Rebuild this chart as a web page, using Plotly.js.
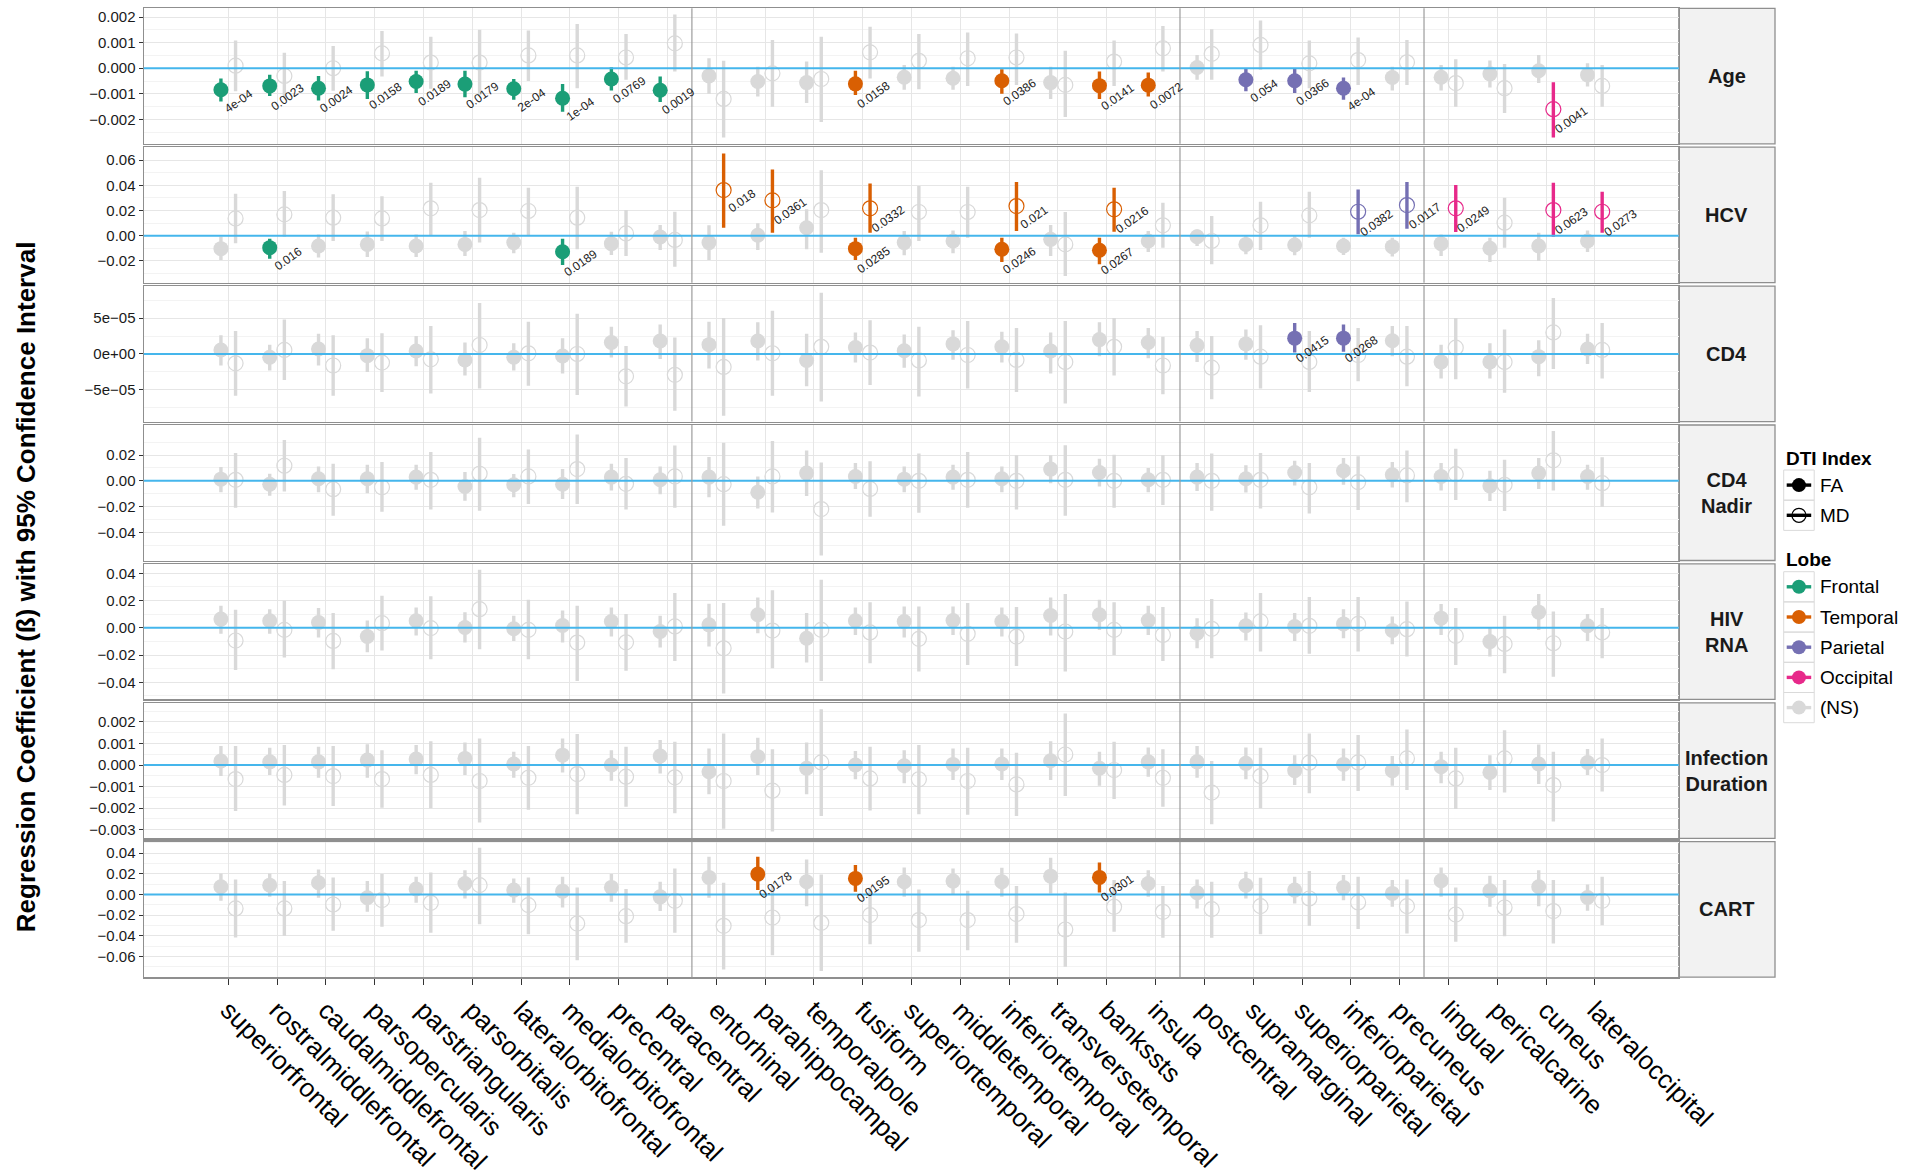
<!DOCTYPE html>
<html><head><meta charset="utf-8">
<script src="https://cdn.plot.ly/plotly-3.0.1.min.js"></script>
<style>html,body{margin:0;padding:0;background:#fff}#chart{width:1921px;height:1173px}</style>
</head><body><div id="chart"></div>
<script>
const N = null;
const regions = ['superiorfrontal','rostralmiddlefrontal','caudalmiddlefrontal','parsopercularis','parstriangularis','parsorbitalis','lateralorbitofrontal','medialorbitofrontal','precentral','paracentral','entorhinal','parahippocampal','temporalpole','fusiform','superiortemporal','middletemporal','inferiortemporal','transversetemporal','bankssts','insula','postcentral','supramarginal','superiorparietal','inferiorparietal','precuneus','lingual','pericalcarine','cuneus','lateraloccipital'];
const lobes = ['Frontal','Frontal','Frontal','Frontal','Frontal','Frontal','Frontal','Frontal','Frontal','Frontal','Temporal','Temporal','Temporal','Temporal','Temporal','Temporal','Temporal','Temporal','Temporal','Temporal','Parietal','Parietal','Parietal','Parietal','Parietal','Occipital','Occipital','Occipital','Occipital'];
const covariates = ['Age','HCV','CD4','CD4<br>Nadir','HIV<br>RNA','Infection<br>Duration','CART'];
const lobeNames = ['Frontal','Temporal','Parietal','Occipital'];
const lobeColors = ['#1B9E77','#D95F02','#7570B3','#E7298A'];
const nsColor = '#D9D9D9';

// Age
const age_FA = [-0.00084,-0.00069,-0.00078,-0.00065,-0.00052,-0.00062,-0.0008,-0.00117,-0.00042,-0.00086,-0.0003,-0.00052,-0.00056,-0.00061,-0.00035,-0.00039,-0.00049,-0.00056,-0.00068,-0.00066,0.00003,-0.00045,-0.00049,-0.00078,-0.00036,-0.00035,-0.00022,-0.0001,-0.00026];
const age_FA_lo = [-0.0013,-0.00108,-0.00126,-0.0012,-0.00097,-0.00113,-0.00123,-0.0017,-0.00087,-0.00132,-0.001,-0.0011,-0.00136,-0.00104,-0.00084,-0.00084,-0.001,-0.0012,-0.0012,-0.0011,-0.00045,-0.0009,-0.00097,-0.00123,-0.00087,-0.00087,-0.00075,-0.00058,-0.00071];
const age_FA_hi = [-0.0004,-0.00025,-0.0003,-0.00012,-0.0001,-0.0001,-0.00042,-0.00062,0.00004,-0.00032,0.00039,0.00006,0.00026,-0.0001,0.00013,0.00006,-0.00004,0.00006,-0.00013,-0.00017,0.00052,-0.00003,-0.00003,-0.00036,0.00006,0.00013,0.0003,0.00052,0.00019];
const age_MD = [0.0001,-0.0003,0.0,0.00058,0.00022,0.00022,0.0005,0.0005,0.00042,0.00097,-0.0012,-0.0002,-0.00042,0.00062,0.00029,0.00039,0.00042,-0.00065,0.00026,0.00078,0.00056,0.00091,0.00019,0.00032,0.00023,-0.00058,-0.00078,-0.0016,-0.00069];
const age_MD_lo = [-0.0009,-0.0011,-0.00088,-0.00032,-0.0008,-0.00104,-0.0005,-0.00078,-0.00045,-0.00013,-0.0027,-0.0015,-0.0021,-0.0004,-0.00082,-0.00069,-0.00065,-0.0019,-0.00069,-0.00013,-0.00045,-0.00006,-0.00078,-0.00065,-0.00065,-0.0015,-0.00175,-0.0027,-0.0015];
const age_MD_hi = [0.00108,0.0006,0.00087,0.00145,0.00123,0.0015,0.00147,0.00173,0.00134,0.0021,0.00029,0.0011,0.00123,0.00162,0.00134,0.0014,0.00136,0.00068,0.00108,0.00165,0.00152,0.00186,0.00108,0.0012,0.0011,0.00035,0.00017,-0.00055,0.00013];
const age_FA_p = ['4e-04','0.0023','0.0024','0.0158','0.0189','0.0179','2e-04','1e-04','0.0769','0.0019',N,N,N,'0.0158',N,N,'0.0386',N,'0.0141','0.0072',N,'0.054','0.0366','4e-04',N,N,N,N,N];
const age_MD_p = [N,N,N,N,N,N,N,N,N,N,N,N,N,N,N,N,N,N,N,N,N,N,N,N,N,N,N,'0.0041',N];

// HCV
const hcv_FA = [-0.0103,-0.0095,-0.0082,-0.0069,-0.0082,-0.0069,-0.0055,-0.0127,-0.0063,-0.001,-0.0055,0.0003,0.0063,-0.0103,-0.0055,-0.0042,-0.0108,-0.0029,-0.0116,-0.0042,-0.0008,-0.0069,-0.0074,-0.0082,-0.0087,-0.0063,-0.01,-0.0082,-0.0042];
const hcv_FA_lo = [-0.0193,-0.0182,-0.0174,-0.0169,-0.0169,-0.0161,-0.014,-0.0232,-0.0153,-0.0114,-0.0193,-0.0114,-0.0108,-0.0193,-0.0156,-0.014,-0.0209,-0.0161,-0.0227,-0.0129,-0.0082,-0.0148,-0.0156,-0.0153,-0.0166,-0.0161,-0.0209,-0.0201,-0.0129];
const hcv_FA_hi = [-0.0008,-0.0024,0.001,0.0034,0.001,0.0037,0.0024,-0.0024,0.0032,0.0085,0.0082,0.0098,0.0209,-0.0016,0.0037,0.0042,-0.0016,0.0085,-0.0016,0.0037,0.005,0.0003,0.0,-0.0016,-0.0016,0.001,-0.0016,0.0024,0.0042];
const hcv_MD = [0.0137,0.0169,0.0143,0.0137,0.0217,0.0203,0.0196,0.0143,0.0018,-0.0034,0.0362,0.028,0.0203,0.0217,0.0188,0.0188,0.0235,-0.0069,0.0209,0.0082,-0.0042,0.0082,0.0161,0.019,0.0243,0.0217,0.0103,0.0203,0.019];
const hcv_MD_lo = [-0.0061,-0.0008,-0.0042,-0.0042,0.0003,-0.0055,0.0003,-0.0108,-0.0161,-0.0246,0.0063,0.0024,-0.0135,0.0024,-0.0042,-0.0016,0.0037,-0.032,0.0032,-0.0095,-0.0227,-0.0114,-0.0016,0.0011,0.0055,0.0029,-0.0095,-0.0008,0.0024];
const hcv_MD_hi = [0.0333,0.0354,0.0328,0.0312,0.042,0.046,0.038,0.0388,0.0203,0.019,0.0653,0.0526,0.052,0.0415,0.0394,0.0388,0.0425,0.0188,0.038,0.0262,0.0156,0.027,0.0349,0.0367,0.0425,0.0402,0.0301,0.042,0.0349];
const hcv_FA_p = [N,'0.016',N,N,N,N,N,'0.0189',N,N,N,N,N,'0.0285',N,N,'0.0246',N,'0.0267',N,N,N,N,N,N,N,N,N,N];
const hcv_MD_p = [N,N,N,N,N,N,N,N,N,N,'0.018','0.0361',N,'0.0332',N,N,'0.021',N,'0.0216',N,N,N,N,'0.0382','0.0117','0.0249',N,'0.0623','0.0273'];

// CD4
const cd4_FA = [5.6e-6,-4.6e-6,6.9e-6,-2.3e-6,4.2e-6,-8.3e-6,-4.6e-6,-2.8e-6,1.6e-5,1.8e-5,1.3e-5,1.8e-5,-9e-6,9e-6,4.6e-6,1.4e-5,1e-5,4.2e-6,2e-5,1.6e-5,1.2e-5,1.4e-5,2.2e-5,2.2e-5,1.85e-5,-1.1e-5,-1.1e-5,-3.7e-6,7e-6];
const cd4_FA_lo = [-1.6e-5,-2.3e-5,-1.6e-5,-2.5e-5,-1.7e-5,-3e-5,-2.3e-5,-2.7e-5,-5e-6,-7e-6,-2e-5,-9e-6,-4.5e-5,-1.2e-5,-1.9e-5,-8e-6,-1.2e-5,-2.7e-5,-3e-6,-6e-6,-1.1e-5,-8e-6,2e-6,3e-6,-3e-6,-3.4e-5,-3.4e-5,-3.1e-5,-1.4e-5];
const cd4_FA_hi = [2.6e-5,1.3e-5,2.8e-5,2.2e-5,2.5e-5,1.6e-5,1.5e-5,2.2e-5,3.8e-5,4.1e-5,4.5e-5,4.4e-5,2.8e-5,3e-5,2.7e-5,3.3e-5,3.1e-5,3e-5,4.4e-5,3.6e-5,3.2e-5,3.4e-5,4.3e-5,4.1e-5,3.9e-5,1.3e-5,1.5e-5,1.9e-5,2.8e-5];
const cd4_MD = [-1.3e-5,5.6e-6,-1.6e-5,-1.2e-5,-7.4e-6,1.25e-5,9e-7,0,-3.1e-5,-2.9e-5,-1.8e-5,1e-6,1e-5,2e-6,-9e-6,-1.4e-6,-8.3e-6,-1.1e-5,1e-5,-1.6e-5,-1.9e-5,-3.7e-6,-1.1e-5,-1.4e-6,-3.7e-6,8.8e-6,-1.1e-5,3e-5,5.6e-6];
const cd4_MD_lo = [-5.8e-5,-3.6e-5,-5.8e-5,-5.3e-5,-5.5e-5,-4.8e-5,-4.4e-5,-5.7e-5,-7.3e-5,-7.9e-5,-8.6e-5,-5.8e-5,-6.6e-5,-4.3e-5,-5.9e-5,-4.8e-5,-5.3e-5,-6.9e-5,-3e-5,-5.6e-5,-6.3e-5,-4.8e-5,-5.3e-5,-3.8e-5,-4.5e-5,-3.5e-5,-5.4e-5,-2.1e-5,-3.4e-5];
const cd4_MD_hi = [3.2e-5,4.8e-5,2.6e-5,2.9e-5,3.9e-5,7.1e-5,4.5e-5,5.6e-5,1.1e-5,2.3e-5,5e-5,6e-5,8.5e-5,4.7e-5,3.8e-5,4.6e-5,3.6e-5,4.6e-5,5e-5,2.4e-5,2.5e-5,4e-5,3.2e-5,3.6e-5,3.9e-5,5e-5,3.4e-5,7.8e-5,4.3e-5];
const cd4_FA_p = [N,N,N,N,N,N,N,N,N,N,N,N,N,N,N,N,N,N,N,N,N,N,'0.0415','0.0268',N,N,N,N,N];
const cd4_MD_p = [N,N,N,N,N,N,N,N,N,N,N,N,N,N,N,N,N,N,N,N,N,N,N,N,N,N,N,N,N];

// CD4 Nadir
const nadir_FA = [0.0013,-0.0026,0.0016,0.0016,0.0029,-0.0044,-0.0031,-0.0026,0.0029,0.0008,0.0029,-0.0089,0.006,0.0034,0.0013,0.0029,0.0016,0.0091,0.0065,0.0008,0.0029,0.0016,0.0065,0.0078,0.0047,0.0034,-0.0039,0.006,0.0034];
const nadir_FA_lo = [-0.0089,-0.0115,-0.0089,-0.0096,-0.007,-0.0154,-0.0128,-0.0141,-0.0076,-0.0104,-0.0128,-0.0214,-0.0117,-0.0063,-0.0089,-0.007,-0.0089,-0.0018,-0.0044,-0.0089,-0.0078,-0.0091,-0.0037,-0.0031,-0.0052,-0.0076,-0.0156,-0.0063,-0.007];
const nadir_FA_hi = [0.0107,0.0055,0.0112,0.0125,0.0125,0.0068,0.0052,0.0091,0.0133,0.0112,0.0185,0.0034,0.0235,0.0138,0.0112,0.0125,0.0112,0.0198,0.0172,0.0099,0.0138,0.012,0.0156,0.0177,0.0146,0.0138,0.0078,0.0177,0.0125];
const nadir_MD = [0.0008,0.0117,-0.0065,-0.005,0.0008,0.0055,0.0034,0.0091,-0.0023,0.0034,-0.0026,0.0034,-0.0219,-0.0063,0,0.0008,0,0.0008,0,0.0008,0,0.0008,-0.005,-0.001,0.0042,0.0052,-0.0031,0.0159,-0.0018];
const nadir_MD_lo = [-0.0209,-0.0083,-0.0271,-0.024,-0.0222,-0.0232,-0.018,-0.018,-0.0222,-0.0209,-0.0349,-0.0245,-0.0579,-0.0279,-0.0248,-0.0209,-0.0222,-0.0271,-0.0209,-0.0188,-0.0232,-0.0214,-0.0253,-0.0227,-0.0167,-0.0149,-0.0235,-0.0076,-0.0201];
const nadir_MD_hi = [0.0216,0.0316,0.0133,0.0146,0.0224,0.0334,0.0243,0.036,0.0177,0.0274,0.0295,0.0308,0.0143,0.0151,0.0211,0.0224,0.0198,0.0276,0.0203,0.0198,0.0211,0.0216,0.0138,0.019,0.0235,0.0248,0.0164,0.0386,0.0183];
const nadir_FA_p = cd4_MD_p;
const nadir_MD_p = cd4_MD_p;

// HIV RNA
const hiv_FA = [0.0064,0.0052,0.0039,-0.0064,0.0052,0.0002,-0.0007,0.0017,0.0047,-0.0027,0.0022,0.0096,-0.0076,0.0052,0.0047,0.0054,0.0047,0.0091,0.0096,0.0054,-0.0039,0.0015,0.001,0.0029,-0.002,0.0071,-0.0101,0.0115,0.0015];
const hiv_FA_lo = [-0.0044,-0.0044,-0.0071,-0.0179,-0.0056,-0.0108,-0.0096,-0.0108,-0.0064,-0.0145,-0.0137,-0.0039,-0.0255,-0.0052,-0.0071,-0.0052,-0.0064,-0.0056,-0.0015,-0.0052,-0.015,-0.0093,-0.0096,-0.0076,-0.012,-0.0052,-0.0211,-0.0015,-0.0096];
const hiv_FA_hi = [0.0162,0.0137,0.0145,0.0054,0.015,0.0115,0.0088,0.0128,0.015,0.0088,0.0177,0.0223,0.0108,0.015,0.0157,0.0157,0.015,0.0223,0.0206,0.0162,0.0071,0.0113,0.0108,0.0137,0.0083,0.0174,0.0005,0.0248,0.0101];
const hiv_MD = [-0.0093,-0.0015,-0.0096,0.0034,-0.0002,0.0137,-0.0015,-0.0108,-0.0106,0.001,-0.015,-0.002,-0.0015,-0.0034,-0.0081,-0.0044,-0.0064,-0.0027,-0.0015,-0.0052,-0.0007,0.0047,0.0015,0.0029,-0.001,-0.0059,-0.0118,-0.0113,-0.0034];
const hiv_MD_lo = [-0.0309,-0.0218,-0.0304,-0.0167,-0.0231,-0.0157,-0.0231,-0.039,-0.0314,-0.0243,-0.0481,-0.0297,-0.039,-0.026,-0.0321,-0.0272,-0.028,-0.0321,-0.0199,-0.0243,-0.0223,-0.0174,-0.0191,-0.0174,-0.0211,-0.0272,-0.0334,-0.0358,-0.0223];
const hiv_MD_hi = [0.0133,0.0199,0.0108,0.0236,0.0231,0.0427,0.0206,0.0162,0.0101,0.0255,0.0182,0.0275,0.0353,0.0187,0.0157,0.0182,0.0152,0.0248,0.0187,0.0152,0.0211,0.0255,0.0226,0.0226,0.0194,0.0145,0.0088,0.012,0.0145];
const hiv_FA_p = cd4_MD_p;
const hiv_MD_p = cd4_MD_p;

// Infection Duration
const dur_FA = [0.00019,0.00015,0.00015,0.00023,0.00028,0.00031,0.00005,0.00046,0,0.00042,-0.00031,0.00039,-0.00015,0,-0.00003,0.00003,0.00005,0.0002,-0.00015,0.00015,0.00015,0.00008,-0.00026,0.00003,-0.00026,-0.00008,-0.00034,0.00005,0.00012];
const dur_FA_lo = [-0.00051,-0.00046,-0.00059,-0.00059,-0.00043,-0.00046,-0.00059,-0.00035,-0.00073,-0.00039,-0.00136,-0.00046,-0.00136,-0.00066,-0.00085,-0.00069,-0.00069,-0.00069,-0.00096,-0.00054,-0.00059,-0.00066,-0.00093,-0.00073,-0.00096,-0.00085,-0.00116,-0.00088,-0.00046];
const dur_FA_hi = [0.00088,0.0008,0.00085,0.00097,0.00093,0.00105,0.00062,0.00123,0.00069,0.00116,0.00077,0.00127,0.00105,0.00065,0.00069,0.00077,0.00077,0.00111,0.00062,0.00082,0.00088,0.00082,0.00046,0.00077,0.00042,0.00062,0.00046,0.00096,0.00074];
const dur_MD = [-0.00065,-0.00046,-0.00051,-0.00065,-0.00046,-0.00074,-0.00059,-0.00042,-0.00054,-0.00057,-0.00074,-0.00119,0.00012,-0.00062,-0.00066,-0.00074,-0.0009,0.00049,-0.00023,-0.00059,-0.00128,-0.00051,0.00011,0.00012,0.00031,-0.00062,0.00031,-0.00093,0];
const dur_MD_lo = [-0.00213,-0.00188,-0.0019,-0.00198,-0.002,-0.00267,-0.00208,-0.00228,-0.00193,-0.00224,-0.00296,-0.00309,-0.00236,-0.00211,-0.00228,-0.00231,-0.00236,-0.00144,-0.00157,-0.00193,-0.00275,-0.002,-0.00131,-0.0012,-0.00116,-0.00204,-0.00127,-0.00262,-0.00123];
const dur_MD_hi = [0.00088,0.00093,0.00088,0.00069,0.00111,0.00123,0.00088,0.00144,0.00085,0.00108,0.00147,0.00073,0.00259,0.00085,0.00093,0.0008,0.00057,0.00239,0.00108,0.00073,0.00019,0.0008,0.00147,0.00139,0.00165,0.0008,0.00162,0.00062,0.00123];
const dur_FA_p = cd4_MD_p;
const dur_MD_p = cd4_MD_p;

// CART
const cart_FA = [0.0074,0.009,0.0113,-0.0032,0.0052,0.0106,0.0042,0.0032,0.0068,-0.0023,0.0165,0.0197,0.0123,0.0155,0.0123,0.0129,0.0123,0.0177,0.0165,0.0106,0.0016,0.009,0.0042,0.0068,0.001,0.0132,0.0035,0.0074,-0.0029];
const cart_FA_lo = [-0.0061,-0.0023,-0.0032,-0.0168,-0.0081,-0.0039,-0.0081,-0.0126,-0.0071,-0.0161,-0.0032,0.0042,-0.0113,0.0026,-0.0023,-0.0006,-0.0023,0.001,0.0019,-0.0023,-0.0135,-0.0039,-0.0087,-0.0055,-0.0119,-0.0023,-0.0119,-0.0113,-0.0158];
const cart_FA_hi = [0.0203,0.0203,0.0242,0.0129,0.0171,0.0235,0.0155,0.0171,0.0197,0.0123,0.0365,0.0365,0.0339,0.0284,0.0261,0.0252,0.0258,0.0355,0.031,0.0235,0.0145,0.0219,0.0171,0.0187,0.0139,0.0261,0.0181,0.0235,0.0097];
const cart_MD = [-0.0135,-0.0135,-0.0097,-0.0055,-0.0081,0.009,-0.0103,-0.0281,-0.021,-0.0061,-0.0303,-0.0223,-0.0274,-0.02,-0.0248,-0.0248,-0.019,-0.0339,-0.0119,-0.0168,-0.0142,-0.0113,-0.0039,-0.0077,-0.0113,-0.0194,-0.0126,-0.0161,-0.0061];
const cart_MD_lo = [-0.0416,-0.04,-0.0352,-0.0313,-0.0371,-0.0287,-0.0384,-0.0635,-0.0468,-0.0371,-0.0726,-0.0587,-0.0739,-0.0481,-0.0555,-0.0539,-0.0468,-0.07,-0.0361,-0.0419,-0.0419,-0.0384,-0.0303,-0.0335,-0.0377,-0.0458,-0.0403,-0.0474,-0.0297];
const cart_MD_hi = [0.0145,0.0129,0.0165,0.0197,0.0213,0.0452,0.0165,0.0068,0.0052,0.0252,0.0113,0.0081,0.0194,0.0068,0.0048,0.0035,0.0081,0.0019,0.0139,0.0081,0.0123,0.0161,0.0226,0.0171,0.0145,0.0068,0.0139,0.0139,0.0171];
const cart_FA_p = [N,N,N,N,N,N,N,N,N,N,N,'0.0178',N,'0.0195',N,N,N,N,'0.0301',N,N,N,N,N,N,N,N,N,N];
const cart_MD_p = cd4_MD_p;

// y-axis ticks per panel
const age_ticks = [-0.002,-0.001,0,0.001,0.002];
const age_ticktext = ['\u22120.002','\u22120.001','0.000','0.001','0.002'];
const hcv_ticks = [-0.02,0,0.02,0.04,0.06];
const hcv_ticktext = ['\u22120.02','0.00','0.02','0.04','0.06'];
const cd4_ticks = [-5e-5,0,5e-5];
const cd4_ticktext = ['\u22125e\u221205','0e+00','5e\u221205'];
const nadir_ticks = [-0.04,-0.02,0,0.02];
const nadir_ticktext = ['\u22120.04','\u22120.02','0.00','0.02'];
const hiv_ticks = [-0.04,-0.02,0,0.02,0.04];
const hiv_ticktext = ['\u22120.04','\u22120.02','0.00','0.02','0.04'];
const dur_ticks = [-0.003,-0.002,-0.001,0,0.001,0.002];
const dur_ticktext = ['\u22120.003','\u22120.002','\u22120.001','0.000','0.001','0.002'];
const cart_ticks = [-0.06,-0.04,-0.02,0,0.02,0.04];
const cart_ticktext = ['\u22120.06','\u22120.04','\u22120.02','0.00','0.02','0.04'];

// ---------------- layout constants ----------------
const W = 1921, H = 1173;
const FONT = '"Liberation Sans", Arial, Helvetica, sans-serif';
const PL = 143.8, PR = 1678.8, SR = 1775;
const TOP0 = 8.3, PITCH = 138.9, PH = 135.5;
const XR = [-0.73, 30.72];
const OFF = 0.15;

const panels = [
  {FA:age_FA,FAlo:age_FA_lo,FAhi:age_FA_hi,MD:age_MD,MDlo:age_MD_lo,MDhi:age_MD_hi,FAp:age_FA_p,MDp:age_MD_p,range:[-0.00295,0.00234],ticks:age_ticks,tt:age_ticktext},
  {FA:hcv_FA,FAlo:hcv_FA_lo,FAhi:hcv_FA_hi,MD:hcv_MD,MDlo:hcv_MD_lo,MDhi:hcv_MD_hi,FAp:hcv_FA_p,MDp:hcv_MD_p,range:[-0.0373,0.0702],ticks:hcv_ticks,tt:hcv_ticktext},
  {FA:cd4_FA,FAlo:cd4_FA_lo,FAhi:cd4_FA_hi,MD:cd4_MD,MDlo:cd4_MD_lo,MDhi:cd4_MD_hi,FAp:cd4_FA_p,MDp:cd4_MD_p,range:[-9.4e-5,9.44e-5],ticks:cd4_ticks,tt:cd4_ticktext},
  {FA:nadir_FA,FAlo:nadir_FA_lo,FAhi:nadir_FA_hi,MD:nadir_MD,MDlo:nadir_MD_lo,MDhi:nadir_MD_hi,FAp:nadir_FA_p,MDp:nadir_MD_p,range:[-0.0618,0.0433],ticks:nadir_ticks,tt:nadir_ticktext},
  {FA:hiv_FA,FAlo:hiv_FA_lo,FAhi:hiv_FA_hi,MD:hiv_MD,MDlo:hiv_MD_lo,MDhi:hiv_MD_hi,FAp:hiv_FA_p,MDp:hiv_MD_p,range:[-0.0525,0.0469],ticks:hiv_ticks,tt:hiv_ticktext},
  {FA:dur_FA,FAlo:dur_FA_lo,FAhi:dur_FA_hi,MD:dur_MD,MDlo:dur_MD_lo,MDhi:dur_MD_hi,FAp:dur_FA_p,MDp:dur_MD_p,range:[-0.0034,0.00289],ticks:dur_ticks,tt:dur_ticktext},
  {FA:cart_FA,FAlo:cart_FA_lo,FAhi:cart_FA_hi,MD:cart_MD,MDlo:cart_MD_lo,MDhi:cart_MD_hi,FAp:cart_FA_p,MDp:cart_MD_p,range:[-0.080,0.051],ticks:cart_ticks,tt:cart_ticktext}
];

const traces = [];
const shapes = [];
const annotations = [];
const layout = {
  width: W, height: H, margin: {l:0,r:0,t:0,b:0},
  paper_bgcolor: '#FFFFFF', plot_bgcolor: 'rgba(0,0,0,0)',
  font: {family: FONT, color: '#000'}, showlegend: false
};

const groups = ['NS'].concat(lobeNames);
function colorOf(g){ return g === 'NS' ? nsColor : lobeColors[lobeNames.indexOf(g)]; }

// lobe boundaries (between consecutive regions of different lobes)
const boundaries = [];
for (let i = 0; i < lobes.length - 1; i++) if (lobes[i] !== lobes[i+1]) boundaries.push(i + 1.5);

panels.forEach((p, r) => {
  const s = r === 0 ? '' : String(r + 1);
  const xa = 'x' + s, ya = 'y' + s;
  const top = TOP0 + r * PITCH, bot = top + PH;
  const step = p.ticks[1] - p.ticks[0];
  const minors = [];
  p.ticks.forEach(t => [t - step/2, t + step/2].forEach(m => {
    if (m > p.range[0] && m < p.range[1] && !minors.some(q => Math.abs(q - m) < step/10)) minors.push(m);
  }));
  layout['xaxis' + s] = {
    domain: [PL / W, PR / W], range: XR, anchor: ya,
    tickmode: 'array', tickvals: regions.map((_, i) => i + 1), ticktext: regions,
    showticklabels: r === 6, tickangle: 45, tickfont: {size: 26, color: '#000', family: FONT},
    ticks: r === 6 ? 'outside' : '', ticklen: 6, tickcolor: '#333', tickwidth: 1,
    showgrid: true, gridcolor: '#E6E6E6', gridwidth: 1, zeroline: false,
    showline: true, mirror: true, linecolor: '#8F8F8F', linewidth: 1.3, fixedrange: true
  };
  layout['yaxis' + s] = {
    domain: [1 - bot / H, 1 - top / H], range: p.range, anchor: xa,
    tickmode: 'array', tickvals: p.ticks, ticktext: p.tt,
    tickfont: {size: 15, color: '#1a1a1a', family: FONT},
    ticks: 'outside', ticklen: 4, tickcolor: '#333', tickwidth: 1,
    showgrid: true, gridcolor: '#E6E6E6', gridwidth: 1,
    minor: {tickmode: 'array', tickvals: minors, showgrid: true, gridcolor: '#F3F3F3', gridwidth: 1, ticks: ''},
    zeroline: false, showline: true, mirror: true, linecolor: '#8F8F8F', linewidth: 1.3, fixedrange: true
  };

  groups.forEach(g => {
    ['FA', 'MD'].forEach(idx => {
      const xs = [], ys = [], ep = [], em = [];
      regions.forEach((name, i) => {
        const sig = p[idx + 'p'][i] != null;
        const grp = sig ? lobes[i] : 'NS';
        if (grp !== g) return;
        xs.push(i + 1 + (idx === 'FA' ? -OFF : OFF));
        ys.push(p[idx][i]);
        ep.push(p[idx + 'hi'][i] - p[idx][i]);
        em.push(p[idx][i] - p[idx + 'lo'][i]);
        if (sig) annotations.push({
          xref: xa, yref: ya, x: i + 1 + (idx === 'FA' ? -OFF : OFF), y: p[idx][i],
          text: p[idx + 'p'][i], showarrow: false, textangle: -35, xshift: 18, yshift: -11,
          font: {size: 12, color: '#222', family: FONT}
        });
      });
      if (!xs.length) return;
      const col = colorOf(g);
      traces.push({
        type: 'scatter', mode: 'markers', x: xs, y: ys, xaxis: xa, yaxis: ya,
        error_y: {type: 'data', symmetric: false, array: ep, arrayminus: em, color: col, thickness: 3.4, width: 0},
        marker: idx === 'FA'
          ? {symbol: 'circle', size: 15, color: col, line: {width: 0}}
          : {symbol: 'circle-open', size: 15, color: col, line: {width: 1.2, color: col}},
        hoverinfo: 'skip', showlegend: false
      });
    });
  });

  // reference line at zero
  shapes.push({type: 'line', xref: xa + ' domain', x0: 0, x1: 1, yref: ya, y0: 0, y1: 0,
    line: {color: '#45B6EC', width: 2}, layer: 'above'});
  // lobe separators
  boundaries.forEach(b => shapes.push({type: 'line', xref: xa, x0: b, x1: b, yref: ya + ' domain', y0: 0, y1: 1,
    line: {color: '#9C9C9C', width: 1.2}, layer: 'above'}));
  // strip
  shapes.push({type: 'rect', xref: 'paper', yref: 'paper', x0: PR / W, x1: SR / W, y0: 1 - bot / H, y1: 1 - top / H,
    fillcolor: '#F2F2F2', line: {color: '#8F8F8F', width: 1.3}, layer: 'below'});
  annotations.push({xref: 'paper', yref: 'paper', x: (PR + SR) / 2 / W, y: 1 - (top + bot) / 2 / H,
    text: '<b>' + covariates[r] + '</b>', showarrow: false, xanchor: 'center', yanchor: 'middle',
    font: {size: 20, color: '#1a1a1a', family: FONT}});
});

// y-axis title
annotations.push({xref: 'paper', yref: 'paper', x: 25.7 / W, y: 0.5, xanchor: 'center', yanchor: 'middle',
  text: '<b>Regression Coefficient (\u00df) with 95% Confidence Interval</b>', textangle: -90, showarrow: false,
  font: {size: 26, color: '#000', family: FONT}});

// ---------------- custom legend on its own hidden axes ----------------
const LX0 = 1775;
layout.xaxis8 = {domain: [LX0 / W, 1], range: [LX0, W], visible: false, fixedrange: true, anchor: 'y8'};
layout.yaxis8 = {domain: [0, 1], range: [H, 0], visible: false, fixedrange: true, anchor: 'x8'};
const KEY_L = 1783.7, KEY_W = 30.5, KEY_H = 30.2, TXT_X = 1817.6;
const dtiNames = ['FA', 'MD'];
const legendBlocks = [
  {title: 'DTI Index', titleY: 458.8, top: 470, items: dtiNames.map((n, k) => ({label: n, color: '#000', open: k === 1}))},
  {title: 'Lobe', titleY: 559.8, top: 571.7, items: lobeNames.map((n, k) => ({label: n, color: lobeColors[k], open: false}))
      .concat([{label: '(NS)', color: nsColor, open: false}])}
];
legendBlocks.forEach(bl => {
  annotations.push({xref: 'x8', yref: 'y8', x: KEY_L, y: bl.titleY, xanchor: 'left', yanchor: 'middle',
    text: '<b>' + bl.title + '</b>', showarrow: false, font: {size: 19, color: '#000', family: FONT}});
  bl.items.forEach((it, k) => {
    const t = bl.top + k * KEY_H, cy = t + KEY_H / 2, cx = KEY_L + KEY_W / 2;
    shapes.push({type: 'rect', xref: 'x8', yref: 'y8', x0: KEY_L, x1: KEY_L + KEY_W, y0: t, y1: t + KEY_H,
      fillcolor: 'rgba(0,0,0,0)', line: {color: '#DADADA', width: 1}, layer: 'above'});
    traces.push({type: 'scatter', mode: 'lines', x: [KEY_L + 3, KEY_L + KEY_W - 3], y: [cy, cy], xaxis: 'x8', yaxis: 'y8',
      line: {color: it.color, width: 3.4}, hoverinfo: 'skip', showlegend: false});
    traces.push({type: 'scatter', mode: 'markers', x: [cx], y: [cy], xaxis: 'x8', yaxis: 'y8',
      marker: it.open ? {symbol: 'circle-open', size: 14, color: it.color, line: {width: 1.3, color: it.color}}
                      : {symbol: 'circle', size: 14, color: it.color},
      hoverinfo: 'skip', showlegend: false});
    annotations.push({xref: 'x8', yref: 'y8', x: TXT_X, y: cy, xanchor: 'left', yanchor: 'middle',
      text: it.label, showarrow: false, font: {size: 19, color: '#000', family: FONT}});
  });
});

layout.shapes = shapes;
layout.annotations = annotations;
Plotly.newPlot('chart', traces, layout, {staticPlot: true, displayModeBar: false});
</script>
</body></html>
